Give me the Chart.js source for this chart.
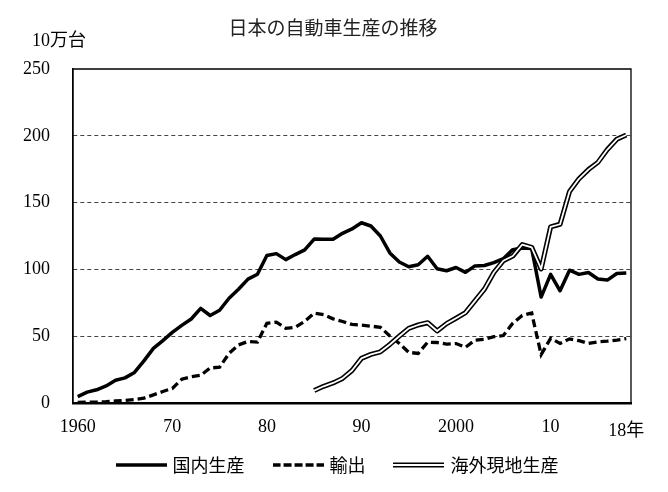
<!DOCTYPE html>
<html>
<head>
<meta charset="utf-8">
<script src="https://cdn.jsdelivr.net/npm/chart.js@4/dist/chart.umd.min.js"></script>
<style>
  body { margin: 0; background: #fff; }
</style>
</head>
<body>
<canvas id="prodChart" width="668" height="492"></canvas>
<script>
// 年（横軸）
const years = [
  1960, 1961, 1962, 1963, 1964, 1965, 1966, 1967, 1968, 1969,
  1970, 1971, 1972, 1973, 1974, 1975, 1976, 1977, 1978, 1979,
  1980, 1981, 1982, 1983, 1984, 1985, 1986, 1987, 1988, 1989,
  1990, 1991, 1992, 1993, 1994, 1995, 1996, 1997, 1998, 1999,
  2000, 2001, 2002, 2003, 2004, 2005, 2006, 2007, 2008, 2009,
  2010, 2011, 2012, 2013, 2014, 2015, 2016, 2017, 2018
];

// 目盛りに出す年とその表記
const tickYears = [1960, 1970, 1980, 1990, 2000, 2010, 2018];
const tickText = ['1960', '70', '80', '90', '2000', '10', '18年'];

// 国内生産（10万台）
const domestic = [
  4.8, 8.1, 9.9, 12.8, 17.0, 18.8, 22.9, 31.5, 40.9, 46.7,
  52.9, 58.1, 62.9, 70.8, 65.5, 69.4, 78.4, 85.1, 92.7, 96.4,
  110.4, 111.8, 107.3, 111.1, 114.6, 122.7, 122.6, 122.5, 127.0, 130.3,
  134.9, 132.5, 125.0, 112.3, 105.5, 102.0, 103.5, 109.8, 100.5, 99.0,
  101.4, 97.8, 102.6, 102.9, 105.1, 108.0, 114.8, 116.0, 115.6, 79.3,
  96.3, 84.0, 99.4, 96.3, 97.7, 92.8, 92.0, 96.9, 97.3
];

// 輸出（10万台）
const exportsData = [
  0.4, 0.7, 0.7, 1.0, 1.5, 1.9, 2.6, 3.6, 6.1, 8.6,
  10.9, 17.8, 19.7, 20.7, 26.2, 26.8, 37.1, 43.5, 46.0, 45.6,
  59.7, 60.5, 55.9, 56.7, 61.1, 67.3, 66.1, 63.0, 61.0, 58.8,
  58.3, 57.5, 56.7, 50.2, 44.6, 37.9, 37.1, 45.5, 45.3, 44.1,
  44.5, 41.7, 47.0, 47.6, 49.6, 50.5, 59.7, 65.5, 67.3, 36.2,
  48.4, 44.6, 48.0, 46.7, 44.6, 45.8, 46.3, 47.1, 48.2
];

// 海外現地生産（10万台）1985年から
const overseas = [
  null, null, null, null, null, null, null, null, null, null,
  null, null, null, null, null, null, null, null, null, null,
  null, null, null, null, null, 9.3, 12.5, 15.0, 18.4, 24.3,
  33.4, 36.4, 38.3, 43.8, 50.0, 55.9, 58.4, 60.1, 53.9, 59.4,
  63.4, 67.6, 76.4, 85.2, 97.7, 106.5, 110.0, 118.6, 116.5, 100.3,
  131.8, 133.8, 158.3, 167.8, 174.7, 180.1, 189.7, 197.4, 200.6
];

const serif = '"Liberation Serif", "Noto Sans CJK JP", serif';
const jp = '"Noto Sans CJK JP", sans-serif';

// 凡例の線見本
function lineSample(kind) {
  const c = document.createElement('canvas');
  c.width = 51;
  c.height = 8;
  const g = c.getContext('2d');
  g.strokeStyle = '#000';
  g.beginPath();
  g.moveTo(0, 4);
  g.lineTo(51, 4);
  if (kind === 'dash') {
    g.setLineDash([8, 3]);
    g.lineWidth = 3.3;
    g.stroke();
  } else if (kind === 'double') {
    g.lineWidth = 5;
    g.stroke();
    g.strokeStyle = '#fff';
    g.lineWidth = 2;
    g.stroke();
  } else {
    g.lineWidth = 3.5;
    g.stroke();
  }
  return c;
}

// 枠線と単位
const framePlugin = {
  id: 'frame',
  afterDraw(chart) {
    const a = chart.chartArea;
    const ctx = chart.ctx;
    ctx.save();
    ctx.setLineDash([]);
    ctx.strokeStyle = '#000';
    ctx.lineWidth = 1.3;
    ctx.beginPath();
    ctx.moveTo(a.left, a.bottom);
    ctx.lineTo(a.left, a.top);
    ctx.lineTo(a.right, a.top);
    ctx.lineTo(a.right, a.bottom);
    ctx.stroke();
    ctx.fillStyle = '#000';
    ctx.font = '18px ' + serif;
    ctx.textAlign = 'left';
    ctx.textBaseline = 'middle';
    ctx.fillText('10万台', a.left - 41, a.top - 28);
    ctx.restore();
  }
};

const ctx = document.getElementById('prodChart').getContext('2d');

new Chart(ctx, {
  type: 'line',
  data: {
    labels: years.map(String),
    datasets: [
      {
        label: '国内生産',
        data: domestic,
        borderColor: '#000',
        borderWidth: 3.5,
        pointRadius: 0,
        borderJoinStyle: 'round',
        tension: 0,
        order: 3
      },
      {
        label: '輸出',
        data: exportsData,
        borderColor: '#000',
        borderWidth: 3.3,
        borderDash: [8, 4],
        pointRadius: 0,
        tension: 0,
        order: 4
      },
      {
        label: '海外現地生産',
        data: overseas,
        borderColor: '#000',
        borderWidth: 5,
        pointRadius: 0,
        borderJoinStyle: 'round',
        tension: 0,
        order: 2
      },
      {
        label: '海外現地生産_inner',
        data: overseas,
        borderColor: '#fff',
        borderWidth: 1.8,
        pointRadius: 0,
        borderJoinStyle: 'round',
        tension: 0,
        order: 1
      }
    ]
  },
  options: {
    responsive: false,
    animation: false,
    layout: {
      padding: { left: 0, right: 37, top: 0, bottom: 8 }
    },
    plugins: {
      title: {
        display: true,
        fullSize: false,
        text: '日本の自動車生産の推移\u3000\u3000',
        color: '#222',
        font: { family: jp, size: 19, weight: 'normal', lineHeight: 1.2 },
        padding: { top: 16.6, bottom: 29.6 }
      },
      legend: {
        display: true,
        position: 'bottom',
        fullSize: false,
        labels: {
          usePointStyle: true,
          pointStyleWidth: 45,
          padding: 13,
          color: '#000',
          font: { family: jp, size: 18 },
          generateLabels: function () {
            return [
              { text: '国内生産\u3000', pointStyle: lineSample('solid'), datasetIndex: 0, hidden: false, lineWidth: 0 },
              { text: '輸出\u3000', pointStyle: lineSample('dash'), datasetIndex: 1, hidden: false, lineWidth: 0 },
              { text: '海外現地生産\u3000\u2002', pointStyle: lineSample('double'), datasetIndex: 2, hidden: false, lineWidth: 0 }
            ];
          }
        }
      },
      tooltip: { enabled: false }
    },
    scales: {
      x: {
        type: 'category',
        offset: true,
        grid: { display: false, drawTicks: false },
        border: { display: true, color: '#000', width: 2.5 },
        ticks: {
          autoSkip: false,
          maxRotation: 0,
          minRotation: 0,
          padding: 14,
          color: '#000',
          font: function (c) {
            return {
              family: serif,
              size: 18,
              lineHeight: c.index === years.length - 1 ? '28px' : '20px'
            };
          },
          callback: function (value, index) {
            const k = tickYears.indexOf(years[index]);
            return k >= 0 ? tickText[k] : '';
          }
        },
        afterFit: function (scale) {
          scale.height = 40;
        }
      },
      y: {
        min: 0,
        max: 250,
        grid: {
          drawTicks: false,
          lineWidth: 1,
          color: function (c) {
            const v = c.tick ? c.tick.value : null;
            return (v === 0 || v === 250) ? 'rgba(0,0,0,0)' : '#444';
          }
        },
        border: { display: true, color: '#000', width: 1.3, dash: [4, 3] },
        ticks: {
          stepSize: 50,
          padding: 23,
          color: '#000',
          font: { family: serif, size: 18 }
        }
      }
    }
  },
  plugins: [framePlugin]
});
</script>
</body>
</html>
